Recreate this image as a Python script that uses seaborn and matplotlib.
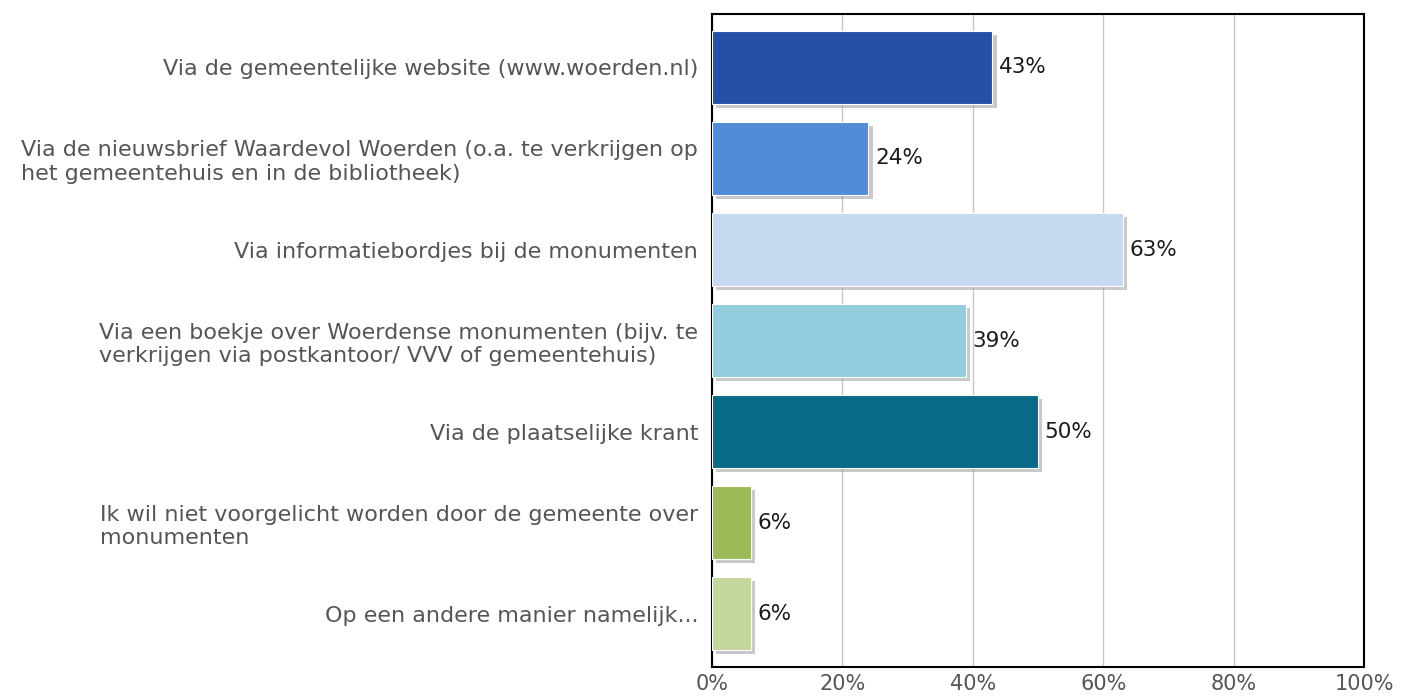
import matplotlib
matplotlib.use("Agg")
import matplotlib.pyplot as plt
import matplotlib.patheffects as pe
import seaborn as sns
import pandas as pd

categories = [
    "Via de gemeentelijke website (www.woerden.nl)",
    "Via de nieuwsbrief Waardevol Woerden (o.a. te verkrijgen op\nhet gemeentehuis en in de bibliotheek)",
    "Via informatiebordjes bij de monumenten",
    "Via een boekje over Woerdense monumenten (bijv. te\nverkrijgen via postkantoor/ VVV of gemeentehuis)",
    "Via de plaatselijke krant",
    "Ik wil niet voorgelicht worden door de gemeente over\nmonumenten",
    "Op een andere manier namelijk...",
]
values = [43, 24, 63, 39, 50, 6, 6]
colors = ["#2650A4", "#518CD6", "#C6D9F1", "#93CDDD", "#086A87", "#9BBB59", "#C3D69B"]
xticks = [0, 20, 40, 60, 80, 100]
xticklabels = ["0%", "20%", "40%", "60%", "80%", "100%"]

sns.set_theme(style="white")
plt.rcParams['font.family'] = ['DejaVu Sans']

FS = 16
df = pd.DataFrame({"cat": categories, "val": values})

fig = plt.figure(figsize=(14.12, 6.98), dpi=100)
ax = fig.add_axes([712/1412, 1-667/698, (1364-712)/1412, (667-14)/698])

sns.barplot(data=df, y="cat", x="val", hue="cat", palette=colors, legend=False,
            orient="h", width=0.80, ax=ax, saturation=1, edgecolor="white", linewidth=0.8, zorder=3)

for p in ax.patches:
    p.set_path_effects([pe.SimplePatchShadow(offset=(3, -3), shadow_rgbFace="#888888", alpha=0.45), pe.Normal()])

for i, v in enumerate(values):
    ax.text(v + 1.0, i, f"{v}%", va="center", ha="left", fontsize=FS - 0.5, color="#1a1a1a", zorder=4)

ax.set_xlim(0, 100)
ax.set_ylim(6.585, -0.587)
ax.set_xticks(xticks)
ax.set_xticklabels(xticklabels, fontsize=15, color="#555555")
ax.tick_params(axis="x", length=0, pad=5)
ax.tick_params(axis="y", length=0, pad=10)
for lbl in ax.get_yticklabels():
    lbl.set_fontsize(FS)
    lbl.set_color("#555555")
    lbl.set_multialignment("left")
ax.set_xlabel("")
ax.set_ylabel("")
ax.xaxis.grid(True, color="#c8c8c8", linewidth=1, zorder=0)
ax.set_axisbelow(True)
for s in ax.spines.values():
    s.set_color("black")
    s.set_linewidth(1.5)
    s.set_visible(True)

fig.savefig("out.png", dpi=100, facecolor="white")
